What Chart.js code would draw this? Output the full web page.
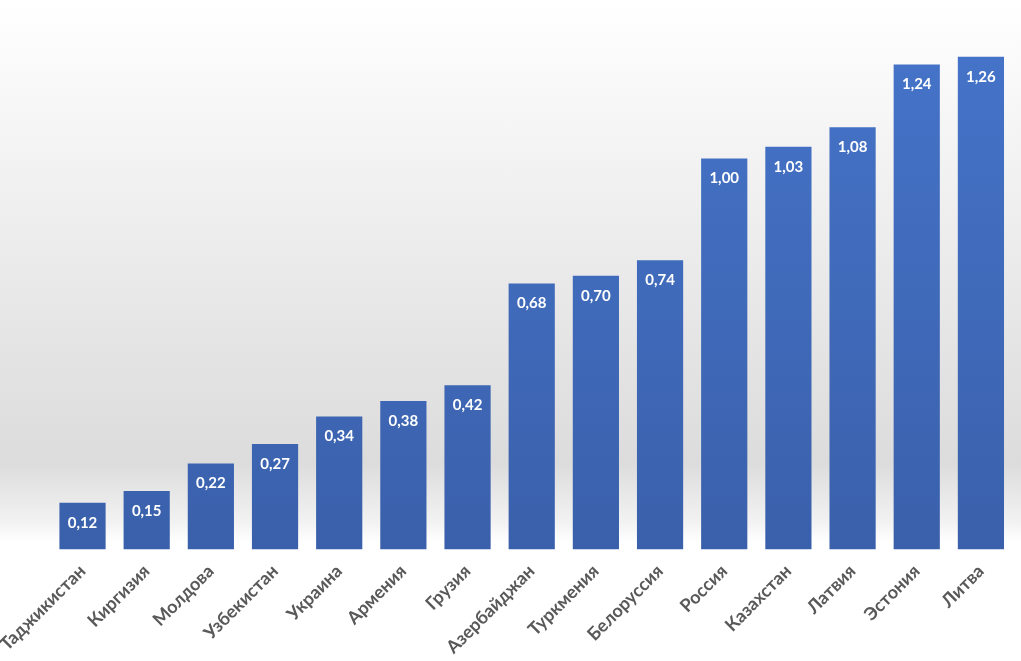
<!DOCTYPE html>
<html><head><meta charset="utf-8">
<script src="https://cdn.jsdelivr.net/npm/chart.js@4"></script>
<style>
html,body{margin:0;padding:0;}
body{width:1021px;height:661px;background:linear-gradient(to bottom,#ffffff 0%,#f2f2f2 25%,#e3e3e3 55%,#dcdcdc 70%,#f2f2f2 79%,#ffffff 82%,#ffffff 100%);}
</style></head><body>
<canvas id="c" width="1021" height="661"></canvas>
<script>
const categories=["Таджикистан","Киргизия","Молдова","Узбекистан","Украина","Армения","Грузия","Азербайджан","Туркмения","Белоруссия","Россия","Казахстан","Латвия","Эстония","Литва"];
const values=[0.12,0.15,0.22,0.27,0.34,0.38,0.42,0.68,0.70,0.74,1.00,1.03,1.08,1.24,1.26];
const labelPlugin={id:'lbl',afterDatasetsDraw(ch){const ctx=ch.ctx;const m=ch.getDatasetMeta(0);ctx.save();ctx.fillStyle='#fff';ctx.font='bold 15px Lato, "Open Sans", sans-serif';ctx.textAlign='center';ctx.textBaseline='middle';m.data.forEach((b,i)=>{ctx.fillText(values[i].toFixed(2).replace('.',','),b.x,b.y+20);});ctx.restore();}};
new Chart(document.getElementById('c'),{type:'bar',
data:{labels:categories,datasets:[{data:values,barPercentage:0.72,categoryPercentage:1,
backgroundColor:(c)=>{const a=c.chart.chartArea;if(!a)return '#4472c4';const g=c.chart.ctx.createLinearGradient(0,a.top,0,a.bottom);g.addColorStop(0,'#4675cb');g.addColorStop(1,'#3a60ab');return g;}}]},
options:{responsive:false,animation:false,devicePixelRatio:1,
layout:{padding:{left:8,right:8,top:2,bottom:0}},
plugins:{legend:{display:false},tooltip:{enabled:false}},
scales:{y:{display:false,min:0,max:1.4},
x:{grid:{display:false},border:{display:false},ticks:{minRotation:45,maxRotation:45,color:'#595959',font:{family:'Lato, "Open Sans", sans-serif',size:18,weight:'bold'}}}}},
plugins:[labelPlugin]});
</script>
</body></html>
